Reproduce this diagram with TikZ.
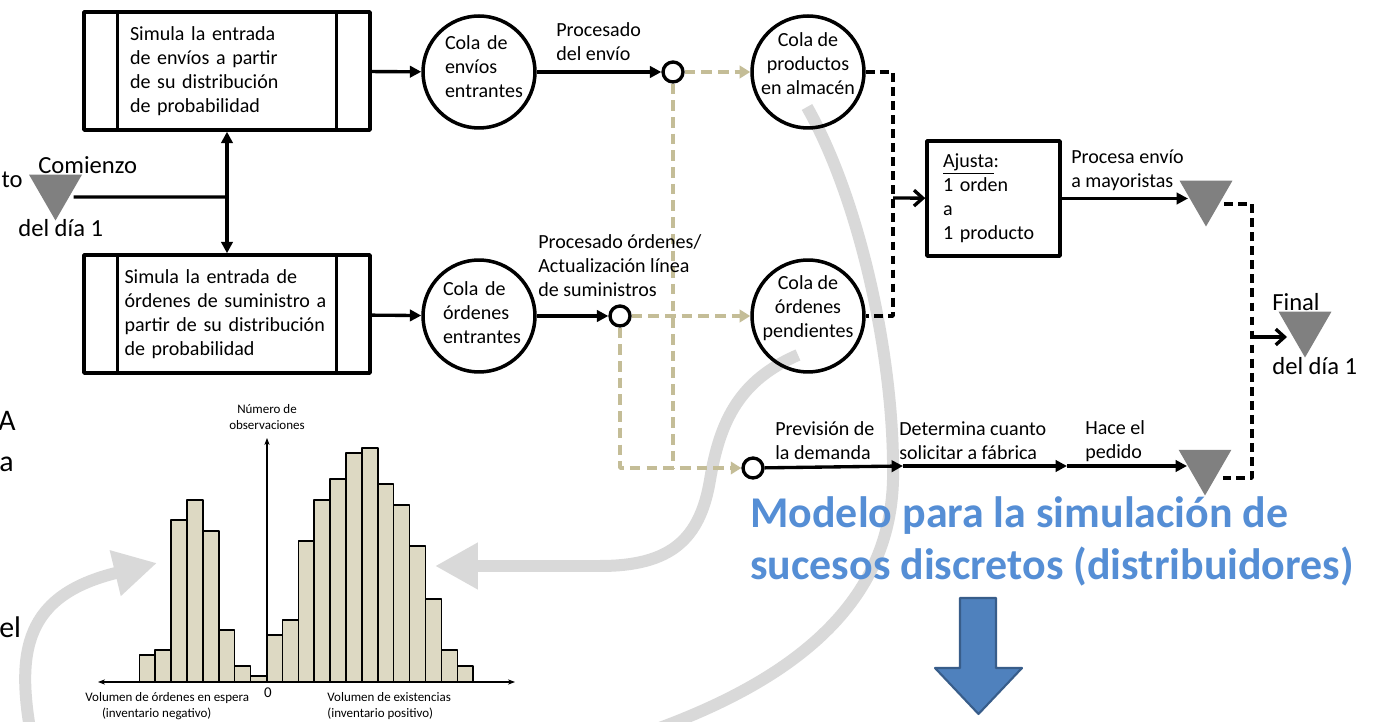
\documentclass[tikz,border=0pt]{standalone}
\usepackage{fontspec}
\setmainfont{Carlito}
\usetikzlibrary{arrows.meta,shapes.geometric}
\definecolor{tanline}{RGB}{196,189,151}
\definecolor{barfill}{RGB}{221,217,195}
\definecolor{curvegray}{RGB}{217,217,217}
\definecolor{titleblue}{RGB}{85,142,213}
\definecolor{arrowblue}{RGB}{79,129,189}
\definecolor{arrowedge}{RGB}{56,93,138}
\definecolor{trigray}{RGB}{128,128,128}
\begin{document}
\begin{tikzpicture}[x=0.02cm, y=-0.02cm, line join=round, font=\fontsize{11.4}{13.6}\selectfont,
	proc/.style={draw, line width=2pt, minimum width=5.72cm, minimum height=2.36cm, align=left, inner sep=0pt},
	queue/.style={draw, circle, line width=2pt, minimum size=2.24cm, inner sep=0pt},
	qtxt/.style={inner sep=0pt, align=left},
	dot/.style={draw, circle, line width=1.9pt, fill=white, minimum size=0.4cm, inner sep=0pt},
	tri/.style={regular polygon, regular polygon sides=3, shape border rotate=180, fill=trigray, minimum size=1.22cm, inner sep=0pt},
	lbl/.style={inner sep=0pt, align=left, anchor=west},
	big/.style={inner sep=0pt, anchor=west, font=\fontsize{14}{16}\selectfont},
	cut/.style={big, font=\fontsize{17}{19}\selectfont},
	arr/.style={line width=1.9pt, -{Triangle[length=6.5pt,width=6.5pt]}},
	barb/.style={line width=1.9pt, -{Straight Barb[length=5pt,width=9pt]}},
	blkdash/.style={line width=2pt, dash pattern=on 5pt off 3pt},
	tandash/.style={tanline, line width=2pt, dash pattern=on 6pt off 3.5pt},
	tanarr/.style={tandash, -{Triangle[length=6pt,width=7pt]}},
	swoosh/.style={curvegray, line width=0.24cm},
	swarr/.style={swoosh, -{Triangle[width=0.88cm,length=0.86cm]}},
	hbar/.style={draw, fill=barfill, line width=0.9pt},
	small/.style={inner sep=0pt, font=\fontsize{7.4}{8.8}\selectfont}]
	\path[fill=white, use as bounding box] (0,0) rectangle (1376,722);
	\clip (0,0) rectangle (1376,722);
	\draw[swoosh] (807,107) .. controls (860,200) and (895,360) .. (893,480) .. controls (890,600) and (800,680) .. (640,735);
	\draw[swarr] (798,355) .. controls (740,380) and (720,420) .. (710,480) .. controls (700,540) and (670,566) .. (600,566) -- (435,566);
	\draw[swarr] (32,740) .. controls (15,650) and (25,595) .. (157,563);
	\node[proc, text width=3.88cm] (envbox) at (227,71) {Simula la entrada\\de envíos a partir\\de su distribución\\de probabilidad};
	\node[proc, text width=4.1cm] (ordbox) at (227,314) {Simula la entrada de\\órdenes de suministro a\\partir de su distribución\\de probabilidad};
	\foreach \b in {envbox,ordbox}
	\draw[line width=2pt] ([xshift=0.7cm]\b.north west) -- ([xshift=0.7cm]\b.south west) ([xshift=-0.7cm]\b.north east) -- ([xshift=-0.7cm]\b.south east);
	\node[queue, label={[qtxt, text width=1.36cm, yshift=0.11cm]center:Cola de\\envíos\\entrantes}] (envq) at (479,72) {};
	\node[queue, label={[qtxt, text width=1.44cm, yshift=0.06cm]center:Cola de\\órdenes\\entrantes}] (ordq) at (479,316) {};
	\node[queue, label={[qtxt, align=center, yshift=0.16cm]center:Cola de\\productos\\en almacén}] (prodq) at (808,72) {};
	\node[queue, label={[qtxt, align=center, yshift=0.16cm]center:Cola de\\órdenes\\pendientes}] (pendq) at (808,316) {};
	\node[dot] (proc1) at (673,72) {};
	\node[dot] (proc2) at (620,316) {};
	\node[dot] (prev) at (753,468) {};
	\node[draw, line width=2pt, minimum width=2.66cm, minimum height=2.3cm, text width=2.02cm, align=left, inner sep=0pt] (ajusta) at (993.5,198.5) {\underline{Ajusta}:\\1 orden\\a\\1 producto};
	\node[tri] (comienzo) at (55.5,190) {};
	\node[tri] (mayor) at (1206,196) {};
	\node[tri] (final) at (1305,327) {};
	\node[tri] (pedido) at (1205,465) {};
	\path (227,197) coordinate (jc) (893,198) coordinate (jl) (1252,337) coordinate (jr)
	(903,466) coordinate (dm) (1067,466) coordinate (hp);
	\draw[line width=1.9pt] ([yshift=-0.14cm]comienzo.east) -- (jc);
	\draw[arr] (jc) -- (envbox);
	\draw[arr] (jc) -- (ordbox);
	\draw[arr] (envbox) -- (envq);
	\draw[arr] (ordbox) -- (ordq);
	\draw[arr] (envq) -- (proc1);
	\draw[arr] (ordq) -- (proc2);
	\draw[tanarr] (proc1) -- (prodq);
	\draw[tanarr] (proc2) -- (pendq);
	\draw[tandash] (proc1) -- (proc1 |- prev);
	\draw[tanarr] (proc2) |- (prev);
	\draw[blkdash] (prodq) -| (jl) |- (pendq);
	\draw[barb] (jl) -- (ajusta);
	\draw[arr] (ajusta) -- (ajusta -| mayor.west);
	\draw[blkdash] ([yshift=-0.16cm]mayor.east) -| (jr) |- ([yshift=-0.26cm]pedido.east);
	\draw[barb] (jr) -- (jr -| final.west);
	\draw[arr] (prev) -- (dm);
	\draw[arr] (dm) -- (hp);
	\draw[arr] (hp) -- (hp -| pedido.west);
	\node[lbl] (lblenv) at (556,42) {Procesado\\del envío};
	\node[lbl] (lblord) at (538,266) {Procesado órdenes/\\Actualización línea\\de suministros};
	\node[lbl] (lblmay) at (1071,170) {Procesa envío\\a mayoristas};
	\node[lbl] (lblprev) at (775,441) {Previsión de\\la demanda};
	\node[lbl] (lbldet) at (899,441) {Determina cuanto\\solicitar a fábrica};
	\node[lbl] (lblped) at (1085,441) {Hace el\\pedido};
	\node[big, anchor=east] (frto) at (23,180) {to};
	\node[big] (lblcom) at (38,165) {Comienzo};
	\node[big] (lbldia) at (18,228) {del día 1};
	\node[big] (lblfin) at (1272,302) {Final};
	\node[big] (lbldiab) at (1272,366) {del día 1};
	\node[cut] (frA) at (-2,421) {A};
	\node[cut] (fra) at (-1,464) {a};
	\node[cut] (frel) at (-1,627) {el};
	\foreach \h [count=\i from 0] in {27,32,162,182,151,52,16,6,47,62,141,182,203,229,234,198,177,136,83,32,16}
	\draw[hbar] ({139.3+15.9*\i},682) rectangle ++(15.9,-\h);
	\draw[line width=0.8pt, {Stealth[length=4pt]}-{Stealth[length=4pt]}] (98,682) -- (515,682);
	\draw[line width=0.6pt, -{Stealth[length=4pt]}] (267,682) -- (267,438);
	\node[small, align=center] (lblobs) at (267,417) {Número de\\observaciones};
	\node[small, font=\fontsize{8.5}{10}\selectfont] (lblcero) at (268,693) {0};
	\node[small, align=left, anchor=west] (lblneg) at (85,706) {Volumen de órdenes en espera\\\hspace*{9.5pt}(inventario negativo)};
	\node[small, align=left, anchor=west] (lblpos) at (327,706) {Volumen de existencias\\(inventario positivo)};
	\node[inner sep=0pt, anchor=west, align=left, text=titleblue, font=\fontsize{25}{29.5}\selectfont\bfseries] (titulo) at (750,541) {Modelo para la simulación de\\sucesos discretos (distribuidores)};
	\draw[fill=arrowblue, draw=arrowedge, line width=1.2pt] (960,598) -- (996,598) -- (996,668) -- (1022,668) -- (978.5,714) -- (935,668) -- (960,668) -- cycle;
\end{tikzpicture}
\end{document}
